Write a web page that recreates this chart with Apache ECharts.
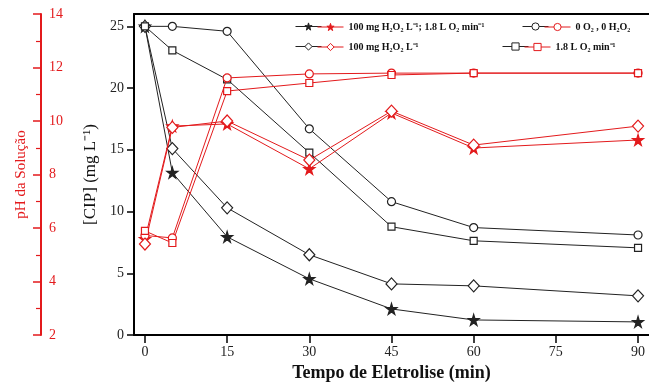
<!DOCTYPE html>
<html>
<head>
<meta charset="utf-8" />
<title>CIP x pH</title>
<script src="https://cdn.jsdelivr.net/npm/echarts@6/dist/echarts.min.js"></script>
<style>
  html, body { margin: 0; padding: 0; background: #fff; }
  #main { width: 649px; height: 389px; }
</style>
</head>
<body>
<div id="main"></div>
<script>
// tempo (min)
var tempo = [0, 5, 15, 30, 45, 60, 90];
var xTicks = [0, 15, 30, 45, 60, 75, 90];
var yTicks = [0, 5, 10, 15, 20, 25];

// [CIP] (mg/L) - pretos
var cipH2O2O2 = [25, 13.15, 7.95, 4.55, 2.11, 1.22, 1.06];
var cipBranco = [25, 25.0, 24.6, 16.7, 10.8, 8.7, 8.1];
var cipH2O2 = [25, 15.1, 10.3, 6.5, 4.14, 3.98, 3.17];
var cipO2 = [25, 23.05, 20.7, 14.77, 8.77, 7.63, 7.06];

// pH da solucao - vermelhos
var phH2O2O2 = [5.59, 9.81, 9.89, 8.21, 10.3, 8.99, 9.29];
var phBranco = [5.72, 5.63, 11.61, 11.76, 11.79, 11.79, 11.79];
var phH2O2 = [5.40, 9.76, 10.0, 8.54, 10.37, 9.10, 9.81];
var phO2 = [5.89, 5.44, 11.12, 11.42, 11.72, 11.79, 11.79];

var nomes = [
  '100 mg H\u2082O\u2082 L\u207B\u00B9; 1.8 L O\u2082 min\u207B\u00B9',
  '0 O\u2082 , 0 H\u2082O\u2082',
  '100 mg H\u2082O\u2082 L\u207B\u00B9',
  '1.8 L O\u2082 min\u207B\u00B9'
];

var star = 'path://M50,0 L61,35 L98,35 L68,57 L79,91 L50,70 L21,91 L32,57 L2,35 L39,35 Z';
var serif = 'Liberation Serif';
var RED = '#e31a1c';
var BLK = '#222';

function pares(v) {
  var out = [];
  for (var i = 0; i < tempo.length; i++) out.push([tempo[i], v[i]]);
  return out;
}

function serie(nome, dados, eixo, cor, simbolo, tam, cheio) {
  return {
    name: nome,
    type: 'line',
    yAxisIndex: eixo,
    data: pares(dados),
    symbol: simbolo,
    symbolSize: tam,
    showAllSymbol: true,
    lineStyle: { color: cor, width: 1 },
    itemStyle: { color: cheio ? cor : '#fff', borderColor: cor, borderWidth: 1.2 },
    emphasis: { disabled: true },
    z: eixo === 1 ? 3 : 2
  };
}

var cheios = [true, false, false, false];

var series = [
  serie('k1', cipH2O2O2, 0, BLK, star, 11, true),
  serie('k2', cipBranco, 0, BLK, 'circle', 8, false),
  serie('k3', cipH2O2, 0, BLK, 'diamond', [11, 12], false),
  serie('k4', cipO2, 0, BLK, 'rect', 7, false),
  serie(nomes[0], phH2O2O2, 1, RED, star, 11, true),
  serie(nomes[1], phBranco, 1, RED, 'circle', 8, false),
  serie(nomes[2], phH2O2, 1, RED, 'diamond', [11, 12], false),
  serie(nomes[3], phO2, 1, RED, 'rect', 7, false)
];

// legenda: marcador preto + marcador vermelho com texto
var legPos = [[295, 22], [522, 22], [295, 42], [502, 42]];
var legends = [];
for (var i = 0; i < 4; i++) {
  legends.push({
    data: [{ name: 'k' + (i + 1),
      itemStyle: { color: cheios[i] ? BLK : '#fff', borderColor: BLK, borderWidth: 1 } }],
    left: legPos[i][0], top: legPos[i][1],
    itemWidth: 26, itemHeight: 9, formatter: function () { return ''; },
    selectedMode: false, padding: 0,
    lineStyle: { width: 1 }
  });
  legends.push({
    data: [{ name: nomes[i],
      itemStyle: { color: cheios[i] ? RED : '#fff', borderColor: RED, borderWidth: 1 } }],
    left: legPos[i][0] + 22, top: legPos[i][1],
    itemWidth: 26, itemHeight: 9, selectedMode: false, padding: 0,
    lineStyle: { width: 1 },
    textStyle: { fontFamily: serif, fontWeight: 'bold', fontSize: 10, color: '#111' }
  });
}

var chart = echarts.init(document.getElementById('main'));
chart.setOption({
  animation: false,
  backgroundColor: '#fff',
  grid: { left: 134, right: 0, top: 14, bottom: 54 },
  legend: legends,
  xAxis: [{
    type: 'value', min: -2, max: 92,
    name: 'Tempo de Eletrolise (min)', nameLocation: 'middle', nameGap: 28,
    nameTextStyle: { fontFamily: serif, fontWeight: 'bold', fontSize: 18, color: '#111' },
    axisLine: { onZero: false, lineStyle: { color: '#000', width: 2 } },
    axisTick: { customValues: xTicks, length: 8, lineStyle: { color: '#000', width: 1.5 } },
    axisLabel: { customValues: xTicks, fontFamily: serif, fontSize: 14, color: '#222', margin: 10 },
    splitLine: { show: false }
  }, {
    type: 'value', position: 'top', min: -2, max: 92,
    axisLine: { show: true, onZero: false, lineStyle: { color: '#000', width: 2 } },
    axisTick: { show: false }, axisLabel: { show: false }, splitLine: { show: false }
  }],
  yAxis: [{
    type: 'value', min: 0, max: 26, position: 'left',
    name: '[CIP] (mg L\u207B\u00B9)', nameLocation: 'middle', nameGap: 32, nameRotate: 90,
    nameTextStyle: { fontFamily: serif, fontSize: 17, color: '#111' },
    axisLine: { show: true, onZero: false, lineStyle: { color: '#000', width: 2 } },
    axisTick: { show: true, customValues: yTicks, length: 7, lineStyle: { color: '#000', width: 1.5 } },
    axisLabel: { customValues: yTicks, fontFamily: serif, fontSize: 14, color: '#222', margin: 10 },
    splitLine: { show: false }
  }, {
    type: 'value', min: 2, max: 14, interval: 2, position: 'left', offset: 93,
    name: 'pH da Solu\u00E7\u00E3o', nameLocation: 'middle', nameGap: 12, nameRotate: 90,
    nameTextStyle: { fontFamily: serif, fontSize: 15, color: RED },
    axisLine: { show: true, onZero: false, lineStyle: { color: RED, width: 2 } },
    axisTick: { show: true, length: 8, lineStyle: { color: RED, width: 1.5 } },
    minorTick: { show: true, splitNumber: 2, length: 5, lineStyle: { color: RED, width: 1.2 } },
    axisLabel: { inside: true, fontFamily: serif, fontSize: 14, color: RED, margin: 8 },
    splitLine: { show: false }
  }],
  series: series
});
</script>
</body>
</html>
